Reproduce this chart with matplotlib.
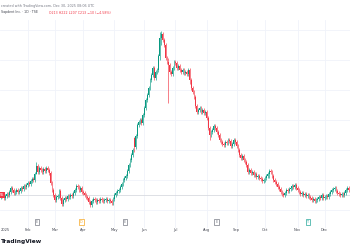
import numpy as np
import matplotlib
matplotlib.use('Agg')
import matplotlib.pyplot as plt

# daily closes, Jan 2 .. Dec 30 (trading days)
closes = [54, 53, 55, 54, 52, 54, 56, 55, 58, 62,
          60, 57, 58, 60, 58, 59, 62, 61, 64, 63,
          65, 67, 66, 69, 71, 70, 76, 84, 78, 82,
          80, 78, 81, 79, 82, 80, 77, 67, 60, 55,
          50, 53, 54, 59, 52, 46, 50, 52, 51, 54,
          53, 55, 54, 57, 60, 64, 63, 60, 62, 58,
          57, 55, 53, 52, 48, 45, 49, 51, 50, 48,
          50, 49, 51, 50, 49, 50, 51, 49, 50, 49,
          47, 51, 55, 57, 59, 60, 63, 66, 70, 72,
          74, 79, 85, 90, 95, 100, 103, 114, 125, 128,
          130, 127, 135, 142, 150, 155, 162, 170, 175, 182,
          172, 178, 180, 194, 212, 216, 210, 205, 192, 188,
          185, 178, 176, 182, 188, 187, 182, 184, 180, 178,
          180, 177, 178, 176, 180, 170, 162, 158, 153, 144,
          138, 140, 142, 138, 140, 137, 138, 132, 122, 115,
          118, 120, 124, 122, 118, 115, 110, 108, 106, 105,
          108, 107, 110, 109, 104, 106, 110, 108, 104, 100,
          95, 92, 94, 90, 88, 85, 78, 80, 77, 78,
          75, 76, 73, 74, 72, 71, 69, 70, 72, 74,
          76, 79, 78, 74, 70, 68, 66, 63, 61, 58,
          56, 55, 57, 60, 59, 61, 62, 64, 63, 65,
          62, 60, 58, 56, 57, 55, 56, 54, 55, 53,
          52, 50, 51, 49, 50, 51, 53, 52, 55, 52,
          53, 54, 53, 56, 58, 60, 61, 62, 59, 57,
          56, 55, 56, 55, 57, 60, 62, 60, 58, 56, 55]
first_open = 55
# a few days with long shadows: index -> (high, low)
long_wicks = {27: (88, 76), 96: (113, 98), 114: (218, 190), 115: (219, 205),
              120: (192, 147), 135: (182, 166), 149: (124, 110), 191: (81, 72)}

month_pos = [0, 21, 40, 60, 82, 103, 125, 147, 168, 188, 211, 230]
month_lbl = ['2025', 'Feb', 'Mar', 'Apr', 'May', 'Jun', 'Jul', 'Aug', 'Sep', 'Oct', 'Nov', 'Dec']

# event flags on the time axis: (index, letter, colour)
events = [(27.5, 'E', '#787b86'), (58.5, 'D', '#f5a623'), (89.5, 'E', '#787b86'),
          (154, 'E', '#787b86'), (218.5, 'T', '#26a69a')]

last_price = 55

closes = np.array(closes, dtype=float)
opens = np.concatenate([[first_open], closes[:-1]])
opens[96] = 112
highs = np.maximum(opens, closes) + 2
lows = np.minimum(opens, closes) - 2
for k, (h, l) in long_wicks.items():
    highs[k] = h
    lows[k] = l
idx = np.arange(len(closes))
up = closes >= opens
col = np.where(up, '#089981', '#f23645')

fig = plt.figure(figsize=(3.5, 2.5), dpi=100)
ax = fig.add_axes([0, 0.088, 1, 0.832])

# grid
for p in month_pos:
    ax.axvline(p, color='#f0f3fa', lw=0.6, zorder=0)
for y in range(40, 230, 30):
    ax.axhline(y, color='#f0f3fa', lw=0.6, zorder=0)

ax.axhline(last_price, color='#d8dae0', lw=0.6, zorder=1)

ax.vlines(idx, lows, highs, colors=col, lw=0.45, zorder=2)
ax.bar(idx, np.abs(closes - opens) + 0.6, bottom=np.minimum(opens, closes) - 0.3,
       width=0.6, color=col, lw=0, zorder=3)

ax.set_xlim(1.41, 247.9)
ax.set_ylim(22, 230)
ax.set_xticks([])
ax.set_yticks([])
for s in ax.spines.values():
    s.set_visible(False)

# price label on the left edge
ax.text(1.5, last_price, '55', fontsize=2.5, color='white', va='center', ha='left',
        bbox=dict(boxstyle='square,pad=0.25', fc='#f23645', ec='none'), zorder=5)

# time axis labels and event flags
for p, lbl in zip(month_pos, month_lbl):
    x = (-2 + 1.42 * p) / 350
    ha = 'center'
    if p == 0:
        x, ha = 0.003, 'left'
    fig.text(x, 1 - 230 / 250, lbl, fontsize=2.6, color='#434651', ha=ha, va='center')
for p, letter, c in events:
    fig.text((-2 + 1.42 * p) / 350, 1 - 222 / 250, letter, fontsize=2.4, color=c,
             ha='center', va='center',
             bbox=dict(boxstyle='square,pad=0.35', fc='white', ec=c, lw=0.5))

fig.text(0.003, 1 - 6 / 250, 'created with TradingView.com, Dec 30, 2025 08:06 UTC',
         fontsize=2.4, color='#787b86', ha='left', va='center')
fig.text(0.003, 1 - 12.5 / 250, 'Sapdent Inc. · 1D · TSE', fontsize=2.3, color='#434651',
         ha='left', va='center')
fig.text(0.14, 1 - 12.5 / 250, 'O213 H222 L207 C213 \u221210 (\u22124.58%)', fontsize=2.3,
         color='#f23645', ha='left', va='center')
fig.text(0.003, 1 - 242 / 250, 'TradingView', fontsize=4.2, color='#131722',
         fontweight='bold', ha='left', va='center')

fig.savefig('out.png', dpi=100, facecolor='white')
